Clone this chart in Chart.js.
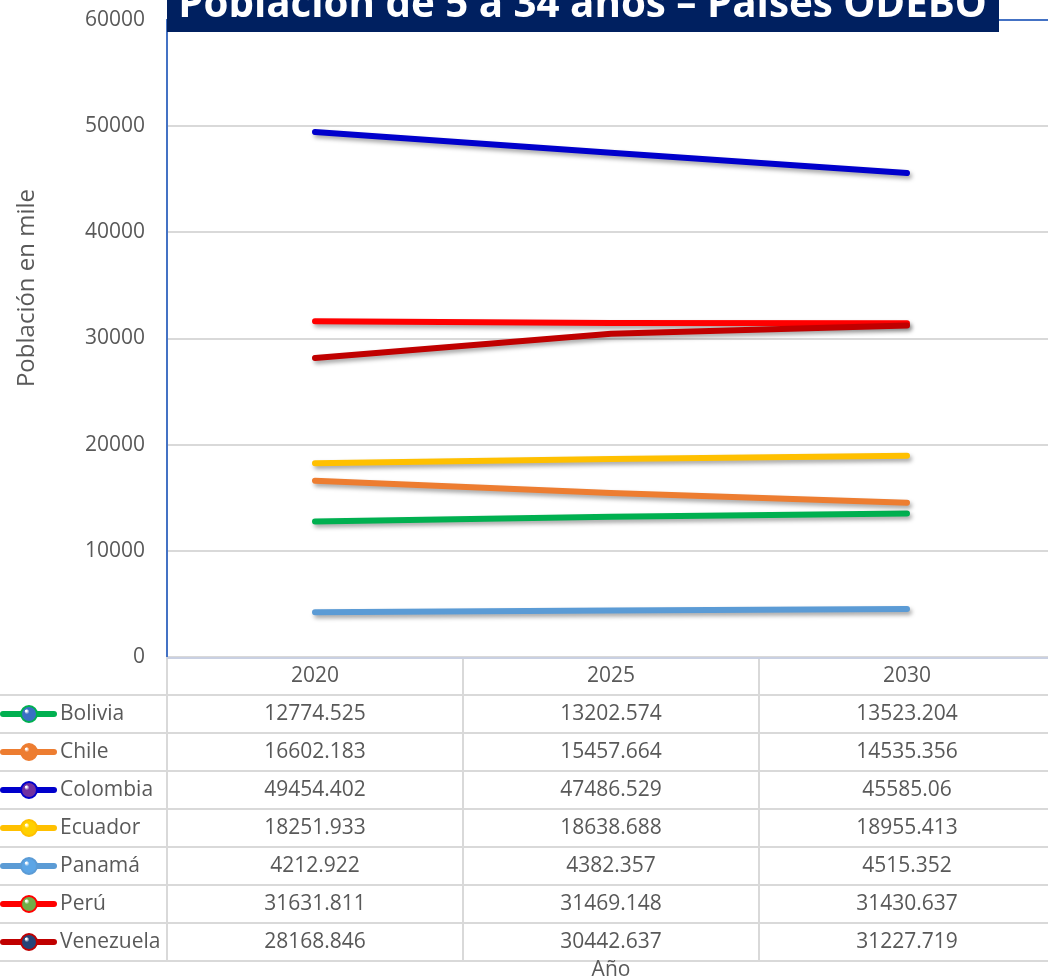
<!DOCTYPE html>
<html lang="es">
<head>
<meta charset="utf-8">
<title>Población de 5 a 34 años – Países ODEBO</title>
<script src="https://cdn.jsdelivr.net/npm/chart.js@4.4.1/dist/chart.umd.min.js"></script>
<style>
    html, body { margin: 0; padding: 0; background: #fff; overflow: hidden; }
    #wrap { width: 1056px; height: 977px; }
</style>
</head>
<body>
<div id="wrap"><canvas id="poblacionChart"></canvas></div>
<script>
// ========== DATOS ==========
const anios = ['2020', '2025', '2030'];
const paises = ['Bolivia', 'Chile', 'Colombia', 'Ecuador', 'Panamá', 'Perú', 'Venezuela'];

const bolivia = [12774.525, 13202.574, 13523.204];
const chile = [16602.183, 15457.664, 14535.356];
const colombia = [49454.402, 47486.529, 45585.06];
const ecuador = [18251.933, 18638.688, 18955.413];
const panama = [4212.922, 4382.357, 4515.352];
const peru = [31631.811, 31469.148, 31430.637];
const venezuela = [28168.846, 30442.637, 31227.719];

const series = [bolivia, chile, colombia, ecuador, panama, peru, venezuela];
const seriesText = [
    ['12774.525', '13202.574', '13523.204'],
    ['16602.183', '15457.664', '14535.356'],
    ['49454.402', '47486.529', '45585.06'],
    ['18251.933', '18638.688', '18955.413'],
    ['4212.922', '4382.357', '4515.352'],
    ['31631.811', '31469.148', '31430.637'],
    ['28168.846', '30442.637', '31227.719']
];

const colores = ['#00B050', '#ED7D31', '#0000CC', '#FFC000', '#5B9BD5', '#FF0000', '#C00000'];
const coloresBola = ['#3A6FC4', '#ED7D31', '#7030A0', '#FFD000', '#5BA5E6', '#70AD47', '#264478'];

const titulo = 'Población de 5 a 34 años – Países ODEBO';
const tituloEje = 'Población en mile';
const tituloX = 'Año';

const FONT = "'Open Sans', 'Noto Sans', sans-serif";
const TXT = '#595959';
const ROW_H = 38;

// ========== PLUGINS ==========
const sombraPlugin = {
    id: 'sombra',
    beforeDatasetsDraw(chart) {
        const ctx = chart.ctx;
        ctx.save();
        ctx.shadowColor = 'rgba(0, 0, 0, 0.35)';
        ctx.shadowBlur = 4;
        ctx.shadowOffsetX = 2;
        ctx.shadowOffsetY = 3;
    },
    afterDatasetsDraw(chart) {
        chart.ctx.restore();
    }
};

function drawBola(ctx, x, y, r, color, borde) {
    ctx.save();
    const g = ctx.createRadialGradient(x - r * 0.35, y - r * 0.4, r * 0.1, x, y, r);
    g.addColorStop(0, '#ffffff');
    g.addColorStop(0.25, color);
    g.addColorStop(1, color);
    ctx.beginPath();
    ctx.arc(x, y, r, 0, Math.PI * 2);
    ctx.fillStyle = g;
    ctx.fill();
    ctx.lineWidth = 2;
    ctx.strokeStyle = borde;
    ctx.stroke();
    ctx.restore();
}

const tablaPlugin = {
    id: 'tablaDatos',
    afterDraw(chart) {
        const ctx = chart.ctx;
        const area = chart.chartArea;
        const xs = chart.scales.x;
        const colW = (area.right - area.left) / anios.length;
        const top = area.bottom;
        const nRows = paises.length + 1;
        const right = chart.width;

        ctx.save();

        // lineas de la tabla
        ctx.strokeStyle = '#D9D9D9';
        ctx.lineWidth = 2;
        for (let r = 1; r <= nRows; r++) {
            const y = top + r * ROW_H;
            ctx.beginPath();
            ctx.moveTo(0, y);
            ctx.lineTo(right, y);
            ctx.stroke();
        }
        for (let c = 0; c < anios.length; c++) {
            const x = area.left + c * colW;
            ctx.beginPath();
            ctx.moveTo(x, top);
            ctx.lineTo(x, top + nRows * ROW_H);
            ctx.stroke();
        }
        ctx.strokeStyle = '#C9D0E2';
        ctx.beginPath();
        ctx.moveTo(area.left, top + 1);
        ctx.lineTo(right, top + 1);
        ctx.stroke();

        // encabezado de años
        ctx.fillStyle = TXT;
        ctx.font = `21px ${FONT}`;
        ctx.textAlign = 'center';
        ctx.textBaseline = 'middle';
        anios.forEach((a, i) => {
            ctx.fillText(a, xs.getPixelForValue(i), top + ROW_H / 2);
        });

        // filas
        paises.forEach((p, r) => {
            const yc = top + (r + 1.5) * ROW_H;
            // clave de leyenda
            ctx.save();
            ctx.strokeStyle = colores[r];
            ctx.lineWidth = 6;
            ctx.lineCap = 'round';
            ctx.beginPath();
            ctx.moveTo(3, yc);
            ctx.lineTo(54, yc);
            ctx.stroke();
            ctx.restore();
            drawBola(ctx, 29, yc, 8, coloresBola[r], colores[r]);

            ctx.fillStyle = TXT;
            ctx.textAlign = 'left';
            ctx.fillText(p, 60, yc);
            ctx.textAlign = 'center';
            seriesText[r].forEach((v, i) => {
                ctx.fillText(v, xs.getPixelForValue(i), yc);
            });
        });

        // titulo eje X
        ctx.fillText(tituloX, (area.left + area.right) / 2, top + nRows * ROW_H + 9);

        // titulo eje Y
        ctx.save();
        ctx.translate(27, 288);
        ctx.rotate(-Math.PI / 2);
        ctx.font = `24px ${FONT}`;
        ctx.fillText(tituloEje, 0, 0);
        ctx.restore();

        // recuadro del titulo
        ctx.fillStyle = '#002060';
        ctx.fillRect(area.left, 0, 999 - area.left, 32);
        ctx.font = `bold 100px ${FONT}`;
        const w = ctx.measureText(titulo).width;
        const size = 100 * 809 / w;
        ctx.font = `bold ${size}px ${FONT}`;
        ctx.fillStyle = '#ffffff';
        ctx.textAlign = 'center';
        ctx.textBaseline = 'alphabetic';
        ctx.fillText(titulo, 178 + 809 / 2, 17);

        ctx.restore();
    }
};

// ========== GRAFICO ==========
const ctx = document.getElementById('poblacionChart').getContext('2d');
const poblacionChart = new Chart(ctx, {
    type: 'line',
    data: {
        labels: anios,
        datasets: paises.map((p, i) => ({
            label: p,
            data: series[i],
            borderColor: colores[i],
            backgroundColor: colores[i],
            borderWidth: 6,
            borderCapStyle: 'round',
            borderJoinStyle: 'round',
            pointRadius: 0,
            tension: 0,
            order: paises.length - i
        }))
    },
    options: {
        responsive: true,
        maintainAspectRatio: false,
        animation: false,
        layout: { padding: { top: 20, right: 1, bottom: 320, left: 0 } },
        plugins: {
            legend: { display: false },
            tooltip: { enabled: false },
            title: { display: false }
        },
        scales: {
            x: {
                display: false,
                offset: true
            },
            y: {
                min: 0,
                max: 60000,
                afterFit: axis => { axis.width = 167; axis.paddingTop = 0; axis.paddingBottom = 0; },
                ticks: {
                    stepSize: 10000,
                    padding: 22,
                    color: TXT,
                    font: { family: FONT, size: 21 },
                    callback: value => String(value)
                },
                grid: {
                    drawTicks: false,
                    lineWidth: 2,
                    color: c => c.tick && c.tick.value === 60000 ? '#4472C4' : '#D9D9D9'
                },
                border: { color: '#4472C4', width: 2 }
            }
        }
    },
    plugins: [sombraPlugin, tablaPlugin]
});
</script>
</body>
</html>
